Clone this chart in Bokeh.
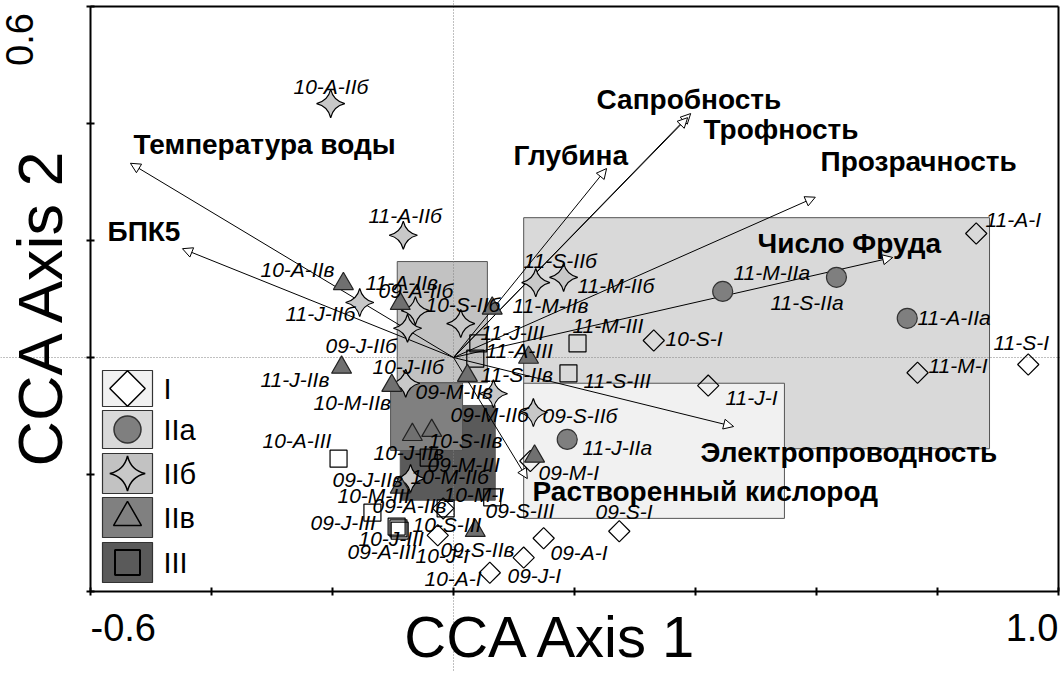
import math
from bokeh.plotting import figure
from bokeh.models import (ColumnDataSource, FixedTicker, Arrow, NormalHead, Span, Label,
                          LinearAxis, Range1d)
from bokeh.core.properties import value
from bokeh.embed import file_html
from bokeh.resources import INLINE

# ---------------- data (CCA scores) ----------------
names_I = ["11-A-I", "11-S-I", "11-M-I", "11-J-I", "10-S-I", "09-S-I", "09-A-I", "09-J-I",
           "10-A-I", "10-J-I", "10-M-I", "09-M-I"]
x_I = [0.864, 0.950, 0.767, 0.421, 0.331, 0.274, 0.149, 0.116, 0.060, -0.026, -0.017, 0.127]
y_I = [0.212, -0.012, -0.026, -0.048, 0.029, -0.297, -0.309, -0.342, -0.368, -0.304, -0.258, -0.177]

names_IIa = ["11-M-IIa", "11-S-IIa", "11-A-IIa", "11-J-IIa"]
x_IIa = [0.445, 0.633, 0.750, 0.188]
y_IIa = [0.113, 0.137, 0.067, -0.140]

names_IIb = ["10-A-IIб", "11-A-IIб", "11-J-IIб", "09-A-IIб", "09-J-IIб", "10-S-IIб", "10-J-IIб",
             "11-S-IIб", "11-M-IIб", "09-S-IIб", "09-M-IIб", "10-M-IIб"]
x_IIb = [-0.203, -0.083, -0.155, -0.063, -0.076, 0.012, -0.079, 0.136, 0.182, 0.132, 0.066, -0.071]
y_IIb = [0.434, 0.209, 0.094, 0.080, 0.050, 0.058, -0.044, 0.128, 0.137, -0.094, -0.062, -0.207]

names_IIv = ["10-A-IIв", "11-A-IIв", "11-J-IIв", "10-M-IIв", "09-M-IIв", "11-M-IIв", "11-S-IIв",
             "10-S-IIв", "10-J-IIв", "09-J-IIв", "09-A-IIв", "09-S-IIв"]
x_IIv = [-0.182, -0.088, -0.185, -0.102, 0.023, 0.064, 0.124, -0.036, -0.068, -0.088, 0.134, 0.036]
y_IIv = [0.126, 0.092, -0.017, -0.048, -0.031, 0.084, 0.000, -0.125, -0.132, -0.222, -0.169, -0.296]

names_III = ["10-A-III", "11-J-III", "11-A-III", "11-M-III", "11-S-III", "09-M-III", "10-M-III",
             "09-J-III", "10-S-III", "10-J-III", "09-A-III", "09-S-III"]
x_III = [-0.190, 0.041, 0.036, 0.205, 0.190, -0.041, -0.134, -0.094, -0.013, -0.089, -0.091, 0.064]
y_III = [-0.173, 0.024, -0.002, 0.024, -0.027, -0.171, -0.265, -0.289, -0.258, -0.296, -0.292, -0.239]

var_names = ["Температура воды", "БПК5", "Глубина", "Сапробность", "Трофность",
             "Прозрачность", "Число Фруда", "Электропроводность", "Растворенный кислород"]
var_x = [-0.534, -0.448, 0.253, 0.392, 0.387, 0.598, 0.726, 0.463, 0.122]
var_y = [0.332, 0.186, 0.323, 0.417, 0.410, 0.274, 0.171, -0.118, -0.207]

# group envelopes (left, right, top, bottom) in axis units
env_groups = ["IIa", "I", "III", "IIв", "IIб"]
env_left = [0.116, 0.116, -0.088, -0.104, -0.093]
env_right = [0.886, 0.547, 0.069, 0.015, 0.056]
env_top = [0.239, -0.044, -0.082, -0.043, 0.164]
env_bottom = [-0.156, -0.275, -0.244, -0.159, -0.043]

legend_labels = ["I", "IIa", "IIб", "IIв", "III"]
x_ticks = [-0.6, -0.4, -0.2, 0.0, 0.2, 0.4, 0.6, 0.8, 1.0]
y_ticks = [-0.4, -0.2, 0.0, 0.2, 0.4, 0.6]
x_tick_labels = ["-0.6", "1.0"]
y_tick_labels = ["0.6"]

# ---------------- layout (pixels) ----------------
W, H = 1060, 671
FX0, FX1 = 90.0, 1058.0     # pixel columns of x = -0.6 and x = 1.0
FY0, FY1 = 591.0, 6.0       # pixel rows of y = -0.4 and y = 0.6
KX = (FX1 - FX0) / 1.6
KY = (FY0 - FY1) / 1.0


def ux(px):
    return -0.6 + (px - FX0) / KX


def uy(py):
    return 0.6 - (py - FY1) / KY


# label anchor positions (left edge, vertical middle) in pixels
label_px = {
    "11-A-I": (985, 219), "11-S-I": (993, 342), "11-M-I": (928, 365), "11-J-I": (725, 397),
    "10-S-I": (665, 338), "09-S-I": (595, 511), "09-A-I": (550, 552), "09-J-I": (507, 575),
    "10-A-I": (424, 578), "10-J-I": (415, 555), "10-M-I": (443, 494), "09-M-I": (538, 472),
    "11-M-IIa": (733, 272), "11-S-IIa": (770, 302), "11-A-IIa": (917, 317), "11-J-IIa": (582, 447),
    "10-A-IIб": (293, 86), "11-A-IIб": (368, 215), "11-J-IIб": (285, 313), "09-A-IIб": (378, 290),
    "09-J-IIб": (325, 345), "10-S-IIб": (425, 304), "10-J-IIб": (372, 366), "11-S-IIб": (523, 260),
    "11-M-IIб": (577, 285), "09-S-IIб": (542, 415), "09-M-IIб": (450, 414), "10-M-IIб": (410, 476),
    "10-A-IIв": (260, 269), "11-A-IIв": (365, 282), "11-J-IIв": (260, 379), "10-M-IIв": (313, 402),
    "09-M-IIв": (415, 391), "11-M-IIв": (512, 305), "11-S-IIв": (480, 374), "10-S-IIв": (428, 440),
    "10-J-IIв": (373, 452), "09-J-IIв": (332, 479), "09-A-IIв": (372, 505), "09-S-IIв": (440, 549),
    "10-A-III": (262, 440), "11-J-III": (480, 332), "11-A-III": (485, 350), "11-M-III": (572, 325),
    "11-S-III": (583, 380), "09-M-III": (427, 464), "10-M-III": (337, 495), "09-J-III": (310, 522),
    "10-S-III": (412, 524), "10-J-III": (358, 538), "09-A-III": (347, 551), "09-S-III": (485, 510),
}
var_label_px = {
    "Температура воды": (133, 144), "БПК5": (107, 231), "Глубина": (513, 155),
    "Сапробность": (596, 99), "Трофность": (703, 129), "Прозрачность": (820, 161),
    "Число Фруда": (757, 243), "Электропроводность": (700, 452),
    "Растворенный кислород": (532, 491),
}

FONT = "Liberation Sans"

p = figure(width=W, height=H,
           x_range=Range1d(ux(0), ux(W)), y_range=Range1d(uy(H), uy(0)),
           output_backend="svg", toolbar_location=None, title_location=None,
           x_axis_location=None, y_axis_location=None,
           min_border=0, min_border_left=0, min_border_right=0,
           min_border_top=0, min_border_bottom=0)
p.grid.visible = False
p.background_fill_color = "white"
p.border_fill_color = "white"
p.outline_line_color = None


def frame_axis(loc, fixed, bounds, ticks):
    ax = LinearAxis(fixed_location=fixed, bounds=bounds,
                    ticker=FixedTicker(ticks=[], minor_ticks=ticks))
    ax.axis_line_width = 2
    ax.axis_line_color = "black"
    ax.major_tick_line_color = None
    if ticks:
        ax.minor_tick_line_color = "black"
        ax.minor_tick_line_width = 2
        ax.minor_tick_in = 4
        ax.minor_tick_out = 4
    else:
        ax.minor_tick_line_color = None
    p.add_layout(ax, loc)


frame_axis("below", -0.4, (-0.6, 1.0), x_ticks)
frame_axis("left", -0.6, (-0.4, 0.6), y_ticks)
frame_axis("above", 0.6, (-0.6, 1.0), [])
frame_axis("right", 1.0, (-0.4, 0.6), [])

# group envelopes
env_fill = {"IIa": "#d9d9d9", "I": "#f1f1f1", "III": "#5a5a5a", "IIв": "#808080", "IIб": "#c2c2c2"}
env_src = ColumnDataSource(dict(left=env_left, right=env_right, top=env_top, bottom=env_bottom,
                                color=[env_fill[g] for g in env_groups]))
p.quad(left="left", right="right", top="top", bottom="bottom", source=env_src,
       fill_color="color", line_color="#555555", line_width=1, level="image")

# zero lines
for dim in ("width", "height"):
    p.add_layout(Span(location=0, dimension=dim, line_color="#808080", line_width=1,
                      line_dash="1 2", level="underlay"))

# environmental arrows
arr_src = ColumnDataSource(dict(x0=[0.0] * len(var_x), y0=[0.0] * len(var_y), x1=var_x, y1=var_y))
p.add_layout(Arrow(end=NormalHead(size=10, fill_color="white", line_color="black", line_width=1),
                   x_start="x0", y_start="y0", x_end="x1", y_end="y1", source=arr_src,
                   line_color="black", line_width=1, level="underlay"))

# sample markers
p.scatter(x_I, y_I, marker="square", angle=math.pi / 4, size=15, fill_alpha=0,
          line_color="black", line_width=1.2)
p.scatter(x_III, y_III, marker="square", size=17, fill_alpha=0, line_color="black", line_width=1.2)
p.scatter(x_IIa, y_IIa, marker="circle", size=20, fill_color="#7f7f7f", line_color="#333333",
          line_width=1.2)
p.scatter(x_IIb, y_IIb, marker="square_pin", angle=math.pi / 4, size=20, fill_color="#c8c8c8",
          line_color="black", line_width=1.2)
p.scatter(x_IIv, y_IIv, marker="triangle", size=20, fill_color="#707070", line_color="#222222",
          line_width=1.2)

# sample labels
all_names = names_I + names_IIa + names_IIb + names_IIv + names_III
lab_src = ColumnDataSource(dict(
    x=[ux(label_px[n][0]) for n in all_names],
    y=[uy(label_px[n][1]) for n in all_names],
    t=all_names))
p.text(x="x", y="y", text="t", source=lab_src, text_font=value(FONT), text_font_style="italic",
       text_font_size="21px", text_align="left", text_baseline="middle", text_color="black")

# variable labels
var_src = ColumnDataSource(dict(
    x=[ux(var_label_px[n][0]) for n in var_names],
    y=[uy(var_label_px[n][1]) for n in var_names],
    t=var_names))
p.text(x="x", y="y", text="t", source=var_src, text_font=value(FONT), text_font_style="bold",
       text_font_size="28px", text_align="left", text_baseline="middle", text_color="black")

# legend (drawn as swatches)
leg_rows = [(370, 406), (410, 448), (453, 493), (497, 537), (542, 582)]
leg_fill = ["#f1f1f1", "#d9d9d9", "#c2c2c2", "#808080", "#5a5a5a"]
leg_src = ColumnDataSource(dict(
    left=[ux(102)] * 5, right=[ux(152)] * 5,
    top=[uy(r[0]) for r in leg_rows], bottom=[uy(r[1]) for r in leg_rows], color=leg_fill))
p.quad(left="left", right="right", top="top", bottom="bottom", source=leg_src,
       fill_color="color", line_color="#333333", line_width=1.2)
lcx = ux(127)
lcy = [uy((r[0] + r[1]) / 2) for r in leg_rows]
p.scatter([lcx], [lcy[0]], marker="square", angle=math.pi / 4, size=25, fill_color="white",
          line_color="black", line_width=1.5)
p.scatter([lcx], [lcy[1]], marker="circle", size=27, fill_color="#7f7f7f", line_color="#333333",
          line_width=1.5)
p.scatter([lcx], [lcy[2]], marker="square_pin", angle=math.pi / 4, size=25, fill_color="#c8c8c8",
          line_color="black", line_width=1.5)
p.scatter([lcx], [lcy[3]], marker="triangle", size=28, fill_alpha=0, line_color="black",
          line_width=1.5)
p.scatter([lcx], [lcy[4]], marker="square", size=25, fill_alpha=0, line_color="black",
          line_width=2)
p.text(x=[ux(163)] * 5, y=lcy, text=legend_labels, text_font=value(FONT), text_font_size="29px",
       text_align="left", text_baseline="middle", text_color="black")

# axis titles and end tick labels
p.add_layout(Label(x=ux(552), y=uy(636), text="CCA Axis 1", text_align="center",
                   text_baseline="middle", text_font=FONT, text_font_size="58px",
                   text_color="black"))
p.add_layout(Label(x=ux(39), y=uy(305), text="CCA Axis 2", text_align="center",
                   text_baseline="middle", angle=math.pi / 2, text_font=FONT,
                   text_font_size="63px", text_color="black"))
p.add_layout(Label(x=x_ticks[0], y=uy(627), text=x_tick_labels[0], text_align="left",
                   text_baseline="middle", text_font=FONT, text_font_size="38px",
                   text_color="black"))
p.add_layout(Label(x=x_ticks[-1], y=uy(627), text=x_tick_labels[1], text_align="right",
                   text_baseline="middle", text_font=FONT, text_font_size="38px",
                   text_color="black"))
p.add_layout(Label(x=ux(19), y=uy(39), text=y_tick_labels[0], text_align="center",
                   text_baseline="middle", angle=math.pi / 2, text_font=FONT,
                   text_font_size="38px", text_color="black"))

open("out.html", "w").write(file_html(p, INLINE))
